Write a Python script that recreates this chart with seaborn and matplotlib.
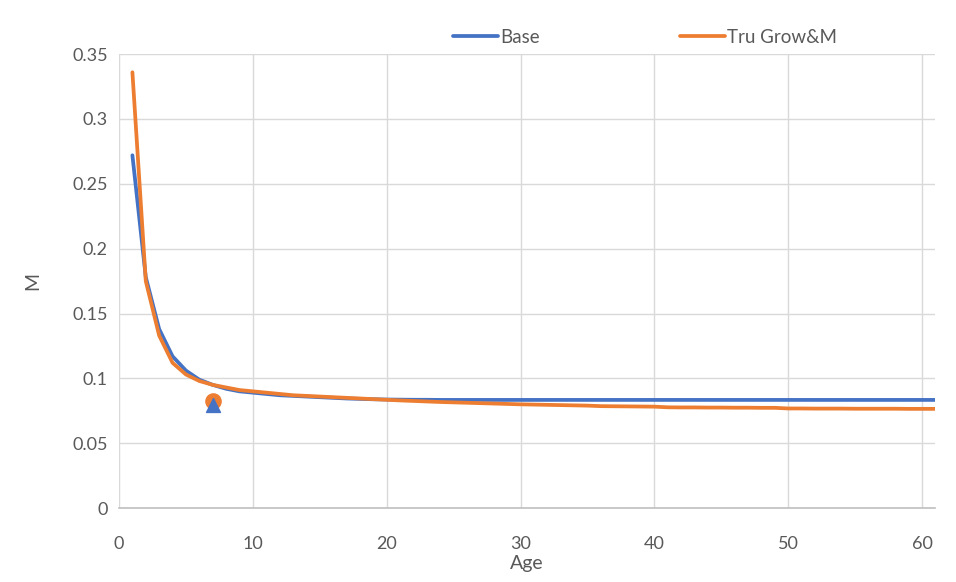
import numpy as np
import pandas as pd
import seaborn as sns
import matplotlib.pyplot as plt

# Data
ages = list(range(1, 62))
base_m = [0.272, 0.178, 0.138, 0.117, 0.106, 0.099, 0.095, 0.092, 0.090, 0.089,
          0.088, 0.087, 0.0865, 0.086, 0.0855, 0.085, 0.0845, 0.0842, 0.0839, 0.0837,
          0.0836, 0.0835, 0.0835, 0.0834, 0.0834, 0.0834, 0.0834, 0.0834, 0.0834, 0.0834,
          0.0834, 0.0834, 0.0834, 0.0834, 0.0834, 0.0834, 0.0834, 0.0834, 0.0834, 0.0834,
          0.0834, 0.0834, 0.0834, 0.0834, 0.0834, 0.0834, 0.0834, 0.0834, 0.0834, 0.0834,
          0.0834, 0.0834, 0.0834, 0.0834, 0.0834, 0.0834, 0.0834, 0.0834, 0.0834, 0.0834,
          0.0834]
tru_m = [0.336, 0.175, 0.133, 0.112, 0.103, 0.098, 0.095, 0.093, 0.091, 0.090,
         0.089, 0.088, 0.087, 0.0865, 0.086, 0.0855, 0.085, 0.0845, 0.084, 0.0835,
         0.083, 0.0826, 0.0822, 0.0818, 0.0815, 0.0812, 0.0809, 0.0806, 0.0803, 0.0800,
         0.0798, 0.0796, 0.0794, 0.0792, 0.0790, 0.0786, 0.0785, 0.0784, 0.0783, 0.0782,
         0.0777, 0.0776, 0.0776, 0.0775, 0.0775, 0.0774, 0.0774, 0.0773, 0.0773, 0.0768,
         0.0768, 0.0767, 0.0767, 0.0767, 0.0766, 0.0766, 0.0766, 0.0766, 0.0765, 0.0765,
         0.0765]
series_names = ["Base", "Tru Grow&M"]
point_age = [7, 7]
point_m = [0.0825, 0.0795]

df = pd.DataFrame({
    "Age": ages * 2,
    "M": base_m + tru_m,
    "Series": [series_names[0]] * len(ages) + [series_names[1]] * len(ages),
})

blue = "#4472C4"
orange = "#ED7D31"

sns.set_theme(style="white")
plt.rcParams['font.family'] = ['Lato', 'DejaVu Sans']

fig = plt.figure(figsize=(9.56, 5.82), dpi=100)
ax = fig.add_axes([0.1245, 0.127, 0.854, 0.780])

sns.lineplot(data=df, x="Age", y="M", hue="Series", palette=[blue, orange],
             linewidth=2.7, ax=ax)

# single points at age 7
ax.scatter(point_age[0], point_m[0], s=120, color=orange, marker="o", zorder=5)
ax.scatter(point_age[1], point_m[1], s=100, color=blue, marker="^", zorder=6)

ax.set_xlim(0, 61)
ax.set_ylim(0, 0.35)
ax.set_xticks(range(0, 61, 10))
ax.set_yticks(np.arange(0, 0.351, 0.05))
ax.set_yticklabels(["0", "0.05", "0.1", "0.15", "0.2", "0.25", "0.3", "0.35"])
ax.grid(True, color="#d9d9d9", linewidth=1)
for s in ["top", "right", "left"]:
    ax.spines[s].set_visible(False)
ax.spines["bottom"].set_color("#bfbfbf")
ax.spines["bottom"].set_linewidth(1.2)
ax.tick_params(axis="both", colors="#595959", labelsize=13, length=0, pad=8)
ax.tick_params(axis="x", pad=20)
ax.set_xlabel("Age", fontsize=14, color="#595959", labelpad=2)
ax.set_ylabel("M", fontsize=14, color="#595959", labelpad=22)

handles, labels = ax.get_legend_handles_labels()
ax.legend(handles, labels, loc="center", bbox_to_anchor=(0.675, 0.936),
          bbox_transform=fig.transFigure, ncol=2, frameon=False,
          fontsize=13.5, labelcolor="#595959", columnspacing=7.5, handlelength=2.4,
          handletextpad=0.1)

fig.savefig("out.png", dpi=100)
